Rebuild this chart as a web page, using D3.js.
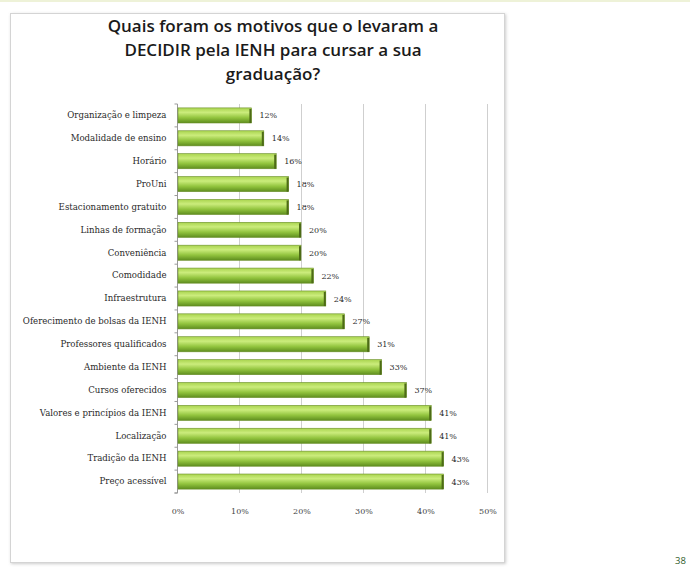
<!DOCTYPE html>
<html>
<head>
<meta charset="utf-8">
<script src="https://cdn.jsdelivr.net/npm/d3@7"></script>
<style>
  html, body { margin: 0; padding: 0; background: #ffffff; }
  svg { display: block; }
</style>
</head>
<body>
<svg id="chart" width="690" height="577"></svg>
<script>
const categories = [
  "Organização e limpeza",
  "Modalidade de ensino",
  "Horário",
  "ProUni",
  "Estacionamento gratuito",
  "Linhas de formação",
  "Conveniência",
  "Comodidade",
  "Infraestrutura",
  "Oferecimento de bolsas da IENH",
  "Professores qualificados",
  "Ambiente da IENH",
  "Cursos oferecidos",
  "Valores e princípios da IENH",
  "Localização",
  "Tradição da IENH",
  "Preço acessível"
];
const values = [12, 14, 16, 18, 18, 20, 20, 22, 24, 27, 31, 33, 37, 41, 41, 43, 43];
const xTicks = [0, 10, 20, 30, 40, 50];
const titleLines = [
  "Quais foram os motivos que o levaram a",
  "DECIDIR pela IENH para cursar a sua",
  "graduação?"
];
const pageNumber = "38";

const svg = d3.select("#chart");

const defs = svg.append("defs");
const grad = defs.append("linearGradient").attr("id", "barGrad")
  .attr("x1", 0).attr("y1", 0).attr("x2", 0).attr("y2", 1);
grad.append("stop").attr("offset", "0%").attr("stop-color", "#a9d44e");
grad.append("stop").attr("offset", "30%").attr("stop-color", "#cbec7c");
grad.append("stop").attr("offset", "65%").attr("stop-color", "#92c43e");
grad.append("stop").attr("offset", "100%").attr("stop-color", "#5e8d1e");

const shadow = defs.append("filter").attr("id", "boxShadow")
  .attr("x", "-5%").attr("y", "-5%").attr("width", "110%").attr("height", "110%");
shadow.append("feDropShadow").attr("dx", 1).attr("dy", 1).attr("stdDeviation", 1.5)
  .attr("flood-color", "#999").attr("flood-opacity", 0.5);

svg.append("rect").attr("x", 0).attr("y", 0).attr("width", 690).attr("height", 2)
  .attr("fill", "#eef2d8");

svg.append("rect")
  .attr("x", 10.5).attr("y", 13.5).attr("width", 494).attr("height", 549)
  .attr("fill", "#ffffff").attr("stroke", "#d4d4d4").attr("stroke-width", 1)
  .attr("filter", "url(#boxShadow)");

svg.append("g").selectAll("text").data(titleLines).join("text")
  .attr("x", 273)
  .attr("y", (d, i) => 32 + i * 24)
  .attr("text-anchor", "middle")
  .attr("font-family", "'Open Sans', sans-serif")
  .attr("font-weight", 600)
  .attr("font-size", 17)
  .attr("fill", "#1a1a1a")
  .text(d => d);

const margin = { left: 177, right: 487, top: 104, bottom: 493 };

const x = d3.scaleLinear().domain([0, 50]).range([margin.left, margin.right]);
const y = d3.scaleBand().domain(categories).range([margin.top, margin.bottom]).paddingInner(0.34).paddingOuter(0.17);

svg.append("g").selectAll("line").data(xTicks.filter(t => t > 0)).join("line")
  .attr("x1", d => x(d) + 0.5).attr("x2", d => x(d) + 0.5)
  .attr("y1", margin.top).attr("y2", margin.bottom)
  .attr("stroke", "#cfcfcf").attr("stroke-width", 1);

const xAxis = d3.axisBottom(x).tickValues(xTicks).tickFormat(d => d + "%").tickSize(0).tickPadding(15);
const gx = svg.append("g").attr("transform", `translate(0.5,${margin.bottom})`).call(xAxis);
gx.select(".domain").remove();
gx.selectAll("text").attr("font-family", "'DejaVu Serif', serif").attr("font-size", 8).attr("fill", "#444");

const yAxis = d3.axisLeft(y).tickSize(3).tickPadding(8);
const gy = svg.append("g").attr("transform", `translate(${margin.left + 0.5},0)`).call(yAxis);
gy.select(".domain").attr("stroke", "#999").attr("d", `M-3,${margin.top}H0V${margin.bottom}H-3`);
gy.selectAll(".tick line").attr("stroke", "#999")
  .attr("transform", `translate(0,${y.step() / 2})`);
gy.selectAll("text").attr("font-family", "'DejaVu Serif', serif").attr("font-size", 8.6).attr("fill", "#2a2a2a");

const bars = svg.append("g");
bars.selectAll("rect.bar").data(values).join("rect")
  .attr("class", "bar")
  .attr("x", margin.left + 1)
  .attr("y", (d, i) => y(categories[i]))
  .attr("width", d => x(d) - margin.left - 1)
  .attr("height", y.bandwidth())
  .attr("fill", "url(#barGrad)")
  .attr("stroke", "#6b8f2a").attr("stroke-width", 0.6);

bars.selectAll("rect.cap").data(values).join("rect")
  .attr("class", "cap")
  .attr("x", d => x(d) - 2)
  .attr("y", (d, i) => y(categories[i]) + 1)
  .attr("width", 2)
  .attr("height", y.bandwidth() - 1)
  .attr("fill", "#4d6b16");

svg.append("g").selectAll("text").data(values).join("text")
  .attr("x", d => x(d) + 8)
  .attr("y", (d, i) => y(categories[i]) + y.bandwidth() / 2 + 3)
  .attr("font-family", "'DejaVu Serif', serif")
  .attr("font-size", 8)
  .attr("fill", "#2a2a2a")
  .text(d => d + "%");

svg.append("text").attr("x", 675).attr("y", 564)
  .attr("font-family", "'Open Sans', sans-serif").attr("font-size", 9.5)
  .attr("fill", "#2f5d2a").text(pageNumber);
</script>
</body>
</html>
